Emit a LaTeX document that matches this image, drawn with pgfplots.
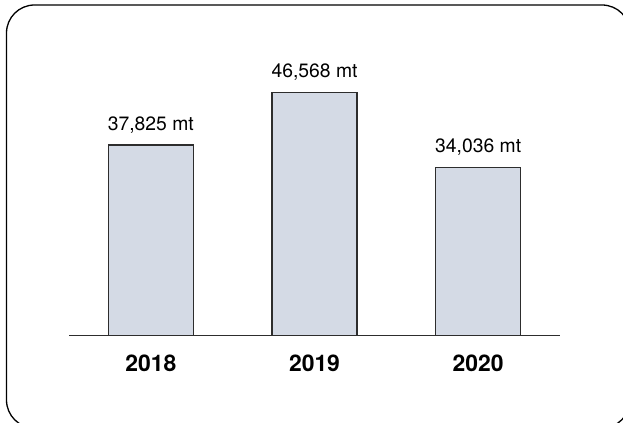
\documentclass[border=0pt]{standalone}
\usepackage{pgfplots}
\pgfplotsset{compat=1.18}
\usepackage{fontspec}
\setmainfont{TeX Gyre Heros}
\definecolor{barfill}{RGB}{212,218,229}
\definecolor{edge}{RGB}{45,45,45}
\begin{document}
\begin{tikzpicture}
\useasboundingbox (0,0) rectangle (623bp,423bp);
\draw[line width=1.3bp, black, rounded corners=28bp] (6.5bp,-5bp) rectangle (630bp,418bp);
\begin{axis}[
  at={(69bp,87.3bp)}, anchor=south west,
  scale only axis, width=491bp, height=263.6bp,
  xmin=-0.5, xmax=2.5, ymin=6000, ymax=50000,
  axis x line*=bottom, axis y line=none,
  x axis line style={draw=edge, line width=1.1bp},
  xtick=data, xticklabels={2018,2019,2020},
  xtick style={draw=none},
  xticklabel style={font=\fontsize{23}{26}\selectfont\bfseries, anchor=base, yshift=-32bp},
  ytick=\empty,
  clip=false,
  ybar, bar width=0.52,
  point meta=explicit symbolic,
  nodes near coords,
  every node near coord/.append style={font=\fontsize{19.4}{22}\selectfont, anchor=base, yshift=15bp, text=black},
]
\addplot[fill=barfill, draw=edge, line width=1.2bp] coordinates {
  (0,37825) [37,825 mt]
  (1,46568) [46,568 mt]
  (2,34036) [34,036 mt]
};
\end{axis}
\end{tikzpicture}
\end{document}
